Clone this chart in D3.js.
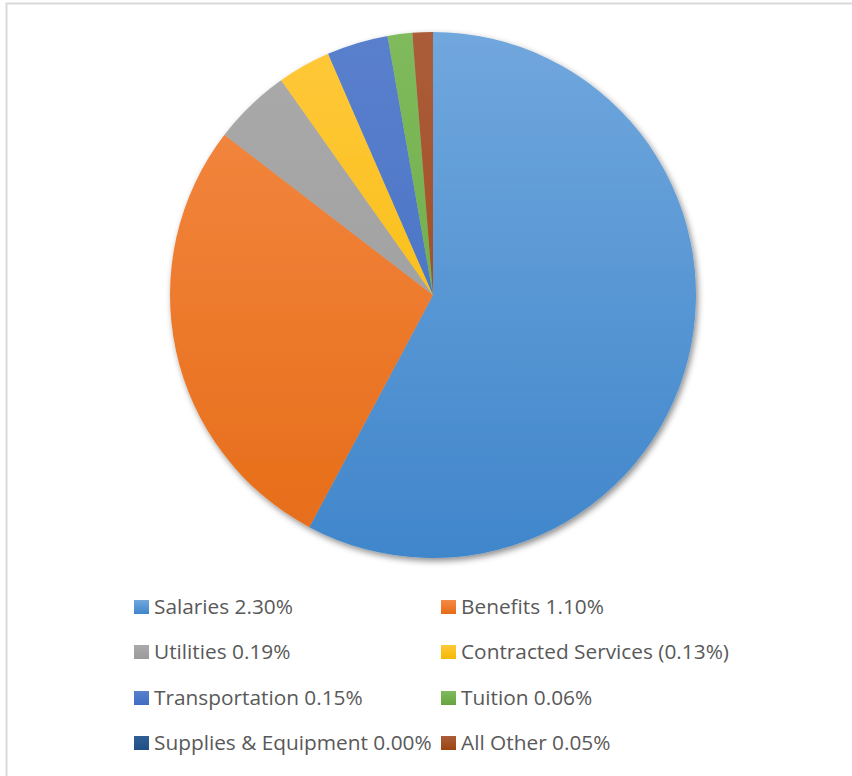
<!DOCTYPE html>
<html>
<head>
<meta charset="utf-8">
<script src="https://cdn.jsdelivr.net/npm/d3@7"></script>
<style>
  body { margin: 0; background: #fff; }
  svg { display: block; }
</style>
</head>
<body>
<div id="chart"></div>
<script>
// slice data (legend labels give the values)
const categories = ['Salaries', 'Benefits', 'Utilities', 'Contracted Services', 'Transportation', 'Tuition', 'Supplies & Equipment', 'All Other'];
const values = [2.30, 1.10, 0.19, 0.13, 0.15, 0.06, 0.00, 0.05];
const labels = ['Salaries 2.30%', 'Benefits 1.10%', 'Utilities 0.19%', 'Contracted Services (0.13%)', 'Transportation 0.15%', 'Tuition 0.06%', 'Supplies & Equipment 0.00%', 'All Other 0.05%'];
// [light, dark] gradient stops, office-style
const colorsTop = ['#70a7dd', '#f48a45', '#aaaaaa', '#ffc83a', '#5a80cc', '#7fbb5c', '#2f5f93', '#ab5d3a'];
const colorsBottom = ['#4086cb', '#e66c17', '#9a9a9a', '#f4b800', '#3f6cc3', '#67a33e', '#1f4f85', '#9b4411'];

const width = 852, height = 776;
const cx = 433, cy = 295, radius = 263;

const svg = d3.select('#chart').append('svg')
  .attr('width', width)
  .attr('height', height);

// chart frame, only the left and top edges fall inside the shot
svg.append('rect')
  .attr('x', 6.5).attr('y', 3.5)
  .attr('width', 900).attr('height', 900)
  .attr('fill', '#fff')
  .attr('stroke', '#d9d9d9')
  .attr('stroke-width', 2);

const defs = svg.append('defs');

const shadow = defs.append('filter')
  .attr('id', 'shadow')
  .attr('x', '-10%').attr('y', '-10%')
  .attr('width', '120%').attr('height', '120%');
shadow.append('feDropShadow')
  .attr('dx', 2).attr('dy', 3)
  .attr('stdDeviation', 3)
  .attr('flood-color', '#000')
  .attr('flood-opacity', 0.45);

// gradients span the full pie vertically so slices shade top->bottom
categories.forEach((c, i) => {
  const g = defs.append('linearGradient')
    .attr('id', 'grad' + i)
    .attr('gradientUnits', 'userSpaceOnUse')
    .attr('x1', 0).attr('y1', -radius)
    .attr('x2', 0).attr('y2', radius);
  g.append('stop').attr('offset', '0%').attr('stop-color', colorsTop[i]);
  g.append('stop').attr('offset', '100%').attr('stop-color', colorsBottom[i]);
});

const pie = d3.pie().sort(null).value(d => d);
const arc = d3.arc().innerRadius(0).outerRadius(radius);

const arcs = pie(values);

const pieGroup = svg.append('g')
  .attr('transform', `translate(${cx},${cy})`)
  .attr('filter', 'url(#shadow)');

pieGroup.selectAll('path')
  .data(arcs)
  .enter()
  .append('path')
  .attr('d', arc)
  .attr('fill', (d, i) => `url(#grad${i})`);

// legend, two columns, four rows
const legendCols = [134, 441];
const legendRows = [607, 652, 698, 743];

const swatchGrad = defs.selectAll('.sw')
  .data(categories)
  .enter()
  .append('linearGradient')
  .attr('class', 'sw')
  .attr('id', (d, i) => 'sw' + i)
  .attr('x1', 0).attr('y1', 0).attr('x2', 0).attr('y2', 1);
swatchGrad.append('stop').attr('offset', '0%').attr('stop-color', (d, i) => colorsTop[i]);
swatchGrad.append('stop').attr('offset', '100%').attr('stop-color', (d, i) => colorsBottom[i]);

const legend = svg.append('g');
const items = legend.selectAll('g')
  .data(labels)
  .enter()
  .append('g')
  .attr('transform', (d, i) => `translate(${legendCols[i % 2]},${legendRows[Math.floor(i / 2)]})`);

items.append('rect')
  .attr('x', 0).attr('y', -7)
  .attr('width', 15).attr('height', 14)
  .attr('fill', (d, i) => `url(#sw${i})`);

const texts = items.append('text')
  .attr('x', 20)
  .attr('y', 0)
  .attr('dy', '0.35em')
  .attr('font-family', '"Open Sans", sans-serif')
  .attr('font-size', '20px')
  .attr('fill', '#595959')
  .text(d => d);

// fit font size so "Salaries 2.30%" spans ~139px like the original (Calibri-ish)
const w0 = texts.node().getComputedTextLength();
const fs = 20 * 139 / w0;
texts.attr('font-size', fs + 'px');
</script>
</body>
</html>
